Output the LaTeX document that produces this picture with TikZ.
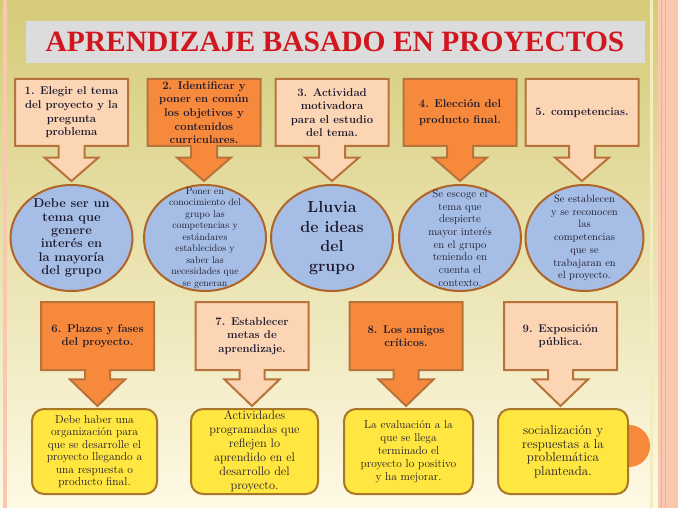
\documentclass[tikz,border=0pt]{standalone}
\usepackage{fontspec}
\newfontfamily\titlefont{Liberation Serif}
\usetikzlibrary{positioning,shapes.geometric,shapes.arrows}
\definecolor{olivetop}{HTML}{D5CB78}
\definecolor{olivemid}{HTML}{ECE3A6}
\definecolor{creambot}{HTML}{FEF9E4}
\definecolor{pinkedge}{HTML}{F9C8AE}
\definecolor{pinkline}{HTML}{EDB08F}
\definecolor{palestripe}{HTML}{F2ECBE}
\definecolor{titlegray}{HTML}{DCDCDC}
\definecolor{titlered}{HTML}{D0161E}
\definecolor{peach}{HTML}{FCD5B5}
\definecolor{deeporange}{HTML}{F6893C}
\definecolor{boxline}{HTML}{B8733A}
\definecolor{skyblue}{HTML}{A6BEE6}
\definecolor{bubbleline}{HTML}{AF6428}
\definecolor{lemon}{HTML}{FFE640}
\definecolor{noteline}{HTML}{A87828}
\definecolor{ink}{HTML}{1E1A2E}
\tikzset{
  stepbox/.style = {arrow box, draw=boxline, line width=2pt, inner sep=0pt,
    align=center, text=ink, font=\bfseries\fontsize{11.3}{13.6}\selectfont,
    minimum width=113pt, minimum height=67pt,
    arrow box north arrow=-1pt, arrow box east arrow=-1pt,
    arrow box west arrow=-1pt},
  toparrow/.style = {stepbox, arrow box shaft width=26pt,
    arrow box head extend=14pt, arrow box tip angle=98,
    arrow box south arrow=34pt},
  lowarrow/.style = {stepbox, minimum height=68pt, arrow box shaft width=25pt,
    arrow box head extend=15pt, arrow box tip angle=92,
    arrow box south arrow=35pt},
  bubble/.style = {ellipse, draw=bubbleline, line width=2pt, fill=skyblue,
    minimum width=122pt, minimum height=106pt, inner sep=0pt},
  bubbletxt/.style = {align=center, text=ink, inner sep=0pt},
  notebox/.style = {rectangle, rounded corners=12pt, draw=noteline,
    line width=2pt, fill=lemon, minimum height=85pt, inner sep=0pt,
    align=center, text=ink}
}
\begin{document}
\begin{tikzpicture}[x=1pt,y=-1pt]
\useasboundingbox (0,0) rectangle (678,508);
\shade[top color=olivetop, middle color=olivemid, bottom color=creambot]
  (0,0) rectangle (678,508);
\fill[pinkedge] (3,0) rectangle (7,508);
\fill[palestripe] (650,0) rectangle (653,508);
\fill[pinkedge] (658,0) rectangle (678,508);
\draw[pinkline, line width=0.8pt] (661,0) -- (661,508);
\draw[pinkline, line width=0.8pt] (665,0) -- (665,508);

\node[fill=titlegray, minimum width=619pt, minimum height=42pt, inner sep=0pt,
  text=titlered, font=\titlefont\bfseries\fontsize{29.5}{30}\selectfont]
  (title) at (335,42) {APRENDIZAJE BASADO EN PROYECTOS};

% fila de arriba
\node[toparrow, fill=peach] (s1) at (71.5,112.5)
  {1. Elegir el tema\\del proyecto y la\\pregunta\\problema};
\node[toparrow, fill=deeporange] (s2) at (204,112.5)
  {2. Identificar y\\poner en común\\los objetivos y\\contenidos\\curriculares.};
\node[toparrow, fill=peach] (s3) at (332,112.5)
  {3. Actividad\\motivadora\\para el estudio\\del tema.};
\node[toparrow, fill=deeporange,
  font=\bfseries\fontsize{11.3}{16}\selectfont] (s4) at (460,112.5)
  {4. Elección del\\producto final.};
\node[toparrow, fill=peach] (s5) at (582,112.5) {5. competencias.};

\node[bubble] (b1) at (71.5,238) {};
\node[bubbletxt, font=\bfseries\fontsize{12.8}{13.4}\selectfont] (b1t) at (b1)
  {Debe ser un\\tema que\\genere\\interés en\\la mayoría\\del grupo};
\node[bubble] (b2) at (205,238) {};
\node[bubbletxt, font=\fontsize{9.8}{11.5}\selectfont] (b2t) at (b2)
  {Poner en\\conocimiento del\\grupo las\\competencias y\\estándares\\establecidos y\\saber las\\necesidades que\\se generan};
\node[bubble] (b3) at (332,238) {};
\node[bubbletxt, font=\bfseries\fontsize{16}{19.5}\selectfont] (b3t) at (b3)
  {Lluvia\\de ideas\\del\\grupo};
\node[bubble] (b4) at (460,238) {};
\node[bubbletxt, font=\fontsize{11}{12.7}\selectfont] (b4t) at (b4)
  {Se escoge el\\tema que\\despierte\\mayor interés\\en el grupo\\teniendo en\\cuenta el\\contexto.};
\node[bubble, minimum width=118pt] (b5) at (584.5,238) {};
\node[bubbletxt, font=\fontsize{10.5}{12.7}\selectfont] (b5t) at (b5)
  {Se establecen\\y se reconocen\\las\\competencias\\que se\\trabajaran en\\el proyecto.};

% fila de abajo
\node[lowarrow, fill=deeporange, font=\bfseries\fontsize{11.3}{12.5}\selectfont]
  (s6) at (97.5,336) {6. Plazos y fases\\del proyecto.};
\node[lowarrow, fill=peach] (s7) at (252,336)
  {7. Establecer\\metas de\\aprendizaje.};
\node[lowarrow, fill=deeporange, font=\bfseries\fontsize{11.3}{12.5}\selectfont]
  (s8) at (406,336) {8. Los amigos\\críticos.};
\node[lowarrow, fill=peach, font=\bfseries\fontsize{11.3}{12.5}\selectfont]
  (s9) at (560.5,336) {9. Exposición\\pública.};

\node[circle, fill=deeporange, minimum size=42pt, inner sep=0pt] (dot) at (629,446) {};

\node[notebox, minimum width=125pt, font=\fontsize{11.5}{12.5}\selectfont]
  (n6) at (94.5,451.5)
  {Debe haber una\\organización para\\que se desarrolle el\\proyecto llegando a\\una respuesta o\\producto final.};
\node[notebox, minimum width=127pt, font=\fontsize{12.3}{14}\selectfont]
  (n7) at (254.5,451.5)
  {Actividades\\programadas que\\reflejen lo\\aprendido en el\\desarrollo del\\proyecto.};
\node[notebox, minimum width=129pt, font=\fontsize{11.4}{13}\selectfont]
  (n8) at (408.5,451.5)
  {La evaluación a la\\que se llega\\terminado el\\proyecto lo positivo\\y ha mejorar.};
\node[notebox, minimum width=130pt, font=\fontsize{13}{13.5}\selectfont]
  (n9) at (563,451.5)
  {socialización y\\respuestas a la\\problemática\\planteada.};
\end{tikzpicture}
\end{document}
